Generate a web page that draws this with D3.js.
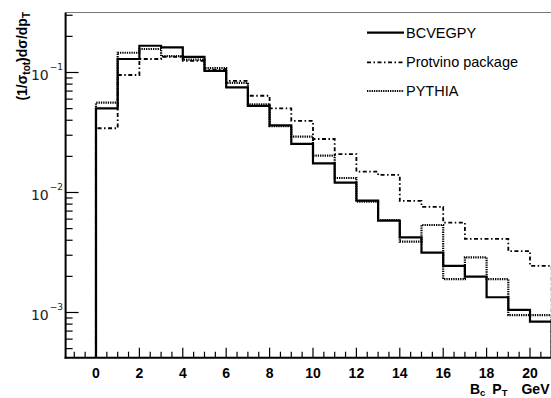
<!DOCTYPE html>
<html><head><meta charset="utf-8">
<script src="https://cdn.jsdelivr.net/npm/d3@7"></script>
<style>html,body{margin:0;padding:0;background:#fff;overflow:hidden}</style>
</head><body><svg id="c" width="551" height="398"></svg>
<script>
// bin edges: bin i spans [i, i+1]
const binStarts = d3.range(0, 21);
const bcvegpy  = [0.0503, 0.1296, 0.167, 0.162, 0.135, 0.103, 0.0753, 0.0528, 0.0363, 0.0254, 0.0175, 0.0121, 0.00855, 0.00582, 0.00423, 0.00315, 0.00245, 0.00199, 0.00134, 0.00105, 0.00084];
const protvino = [0.0343, 0.0953, 0.1296, 0.135, 0.125, 0.105, 0.085, 0.064, 0.0503, 0.0395, 0.0279, 0.0209, 0.0149, 0.014, 0.0085, 0.0076, 0.0056, 0.0041, 0.0041, 0.00325, 0.00245];
const pythia   = [0.056, 0.146, 0.157, 0.137, 0.128, 0.109, 0.082, 0.0543, 0.0358, 0.0292, 0.0203, 0.0132, 0.0084, 0.0059, 0.0039, 0.00536, 0.0019, 0.00288, 0.0019, 0.00095, 0.00095];
const seriesNames = ["BCVEGPY", "Protvino package", "PYTHIA"];
const xTickLabels = [0, 2, 4, 6, 8, 10, 12, 14, 16, 18, 20];
const yTickExps = [-1, -2, -3];

const svg = d3.select("#c");
const x = d3.scaleLinear().domain([-1.4, 21]).range([65.6, 551.7]);
const y = d3.scaleLog().domain([4.2e-4, 0.3162]).range([357.7, 12.5]);
const [y0, y1] = y.range();
const [x0, x1] = x.range();

// frame
svg.append("line").attr("x1", x0).attr("x2", 560).attr("y1", y1).attr("y2", y1)
  .attr("stroke", "#777").attr("stroke-width", 1.2);

// x ticks (inward)
const xMinor = d3.range(-1, 21.01, 0.5);
svg.append("g").selectAll("line").data(xMinor).join("line")
  .attr("x1", d => x(d)).attr("x2", d => x(d))
  .attr("y1", y0).attr("y2", d => y0 - (d % 2 === 0 ? 10 : 6))
  .attr("stroke", "#000").attr("stroke-width", 1.2);
svg.append("g").selectAll("text").data(xTickLabels).join("text")
  .attr("x", d => x(d)).attr("y", 378)
  .attr("text-anchor", "middle")
  .attr("font-family", "Liberation Sans, Arial, sans-serif")
  .attr("font-weight", "bold").attr("font-size", 14)
  .text(d => d);

// y ticks (inward)
const yMinor = [];
[-4, -3, -2, -1].forEach(e => { for (let k = 1; k <= 9; k++) { const v = k * Math.pow(10, e); if (v >= y.domain()[0] && v <= y.domain()[1]) yMinor.push({v, major: k === 1}); } });
svg.append("g").selectAll("line").data(yMinor).join("line")
  .attr("x1", x0).attr("x2", d => x0 + (d.major ? 13 : 7))
  .attr("y1", d => y(d.v)).attr("y2", d => y(d.v))
  .attr("stroke", "#000").attr("stroke-width", 1.2);
const yl = svg.append("g").selectAll("text").data(yTickExps).join("text")
  .attr("x", 63).attr("y", d => y(Math.pow(10, d)) + 7.5)
  .attr("text-anchor", "end")
  .attr("font-family", "DejaVu Sans, sans-serif").attr("font-size", 14)
  .attr("fill", "#222");
yl.append("tspan").text("10");
yl.append("tspan").attr("dx", 1).attr("dy", -10).attr("font-size", 9).text(d => "\u2212" + (-d));

// axes lines
svg.append("line").attr("x1", x0).attr("x2", x0).attr("y1", y1).attr("y2", y0 + 1).attr("stroke", "#000").attr("stroke-width", 2);
svg.append("line").attr("x1", x0 - 1).attr("x2", 560).attr("y1", y0).attr("y2", y0).attr("stroke", "#000").attr("stroke-width", 2);

// histograms
function stepPath(vals) {
  const pts = [[x(binStarts[0]), y0]];
  vals.forEach((v, i) => {
    pts.push([x(binStarts[i]), y(v)]);
    pts.push([x(binStarts[i] + 1), y(v)]);
  });
  pts.push([x(binStarts[vals.length - 1] + 1), y0]);
  return d3.line()(pts);
}
const styles = [
  {data: bcvegpy, dash: null, w: 2.2},
  {data: protvino, dash: "4,2.5,1.5,2.5", w: 1.8},
  {data: pythia, dash: "1.3,1", w: 2.2}
];
[1, 2, 0].forEach(i => {
  svg.append("path").attr("d", stepPath(styles[i].data))
    .attr("fill", "none").attr("stroke", "#000")
    .attr("stroke-width", styles[i].w)
    .attr("stroke-dasharray", styles[i].dash);
});

// legend
const legY = [32.7, 62.3, 91];
const lg = svg.append("g").selectAll("g").data(seriesNames).join("g");
lg.append("line").attr("x1", 367).attr("x2", 404)
  .attr("y1", (d, i) => legY[i]).attr("y2", (d, i) => legY[i])
  .attr("stroke", "#000").attr("stroke-width", (d, i) => styles[i].w)
  .attr("stroke-dasharray", (d, i) => styles[i].dash);
lg.append("text").attr("x", 406).attr("y", (d, i) => legY[i] + 5)
  .attr("font-family", "Liberation Sans, Arial, sans-serif").attr("font-size", 14.5)
  .text(d => d);

// x title
const xt = svg.append("text").attr("x", 549.5).attr("y", 393.5).attr("text-anchor", "end")
  .attr("font-family", "Liberation Sans, Arial, sans-serif").attr("font-weight", "bold").attr("font-size", 14);
xt.append("tspan").text("B");
xt.append("tspan").attr("dy", 2.5).attr("font-size", 9.5).text("c");
xt.append("tspan").attr("dy", -2.5).attr("dx", 7).text("P");
xt.append("tspan").attr("dy", 2.5).attr("font-size", 9.5).text("T");
xt.append("tspan").attr("dy", -2.5).attr("dx", 14).text("GeV");

// y title
const ytt = svg.append("text").attr("transform", "translate(27,12) rotate(-90)")
  .attr("text-anchor", "end")
  .attr("font-family", "Liberation Sans, Arial, sans-serif").attr("font-weight", "bold").attr("font-size", 14);
ytt.append("tspan").text("(1/\u03c3");
ytt.append("tspan").attr("dy", 3).attr("font-size", 10).text("tot");
ytt.append("tspan").attr("dy", -3).text(")d\u03c3/dp");
ytt.append("tspan").attr("dy", 3).attr("font-size", 10).text("T");
</script></body></html>
